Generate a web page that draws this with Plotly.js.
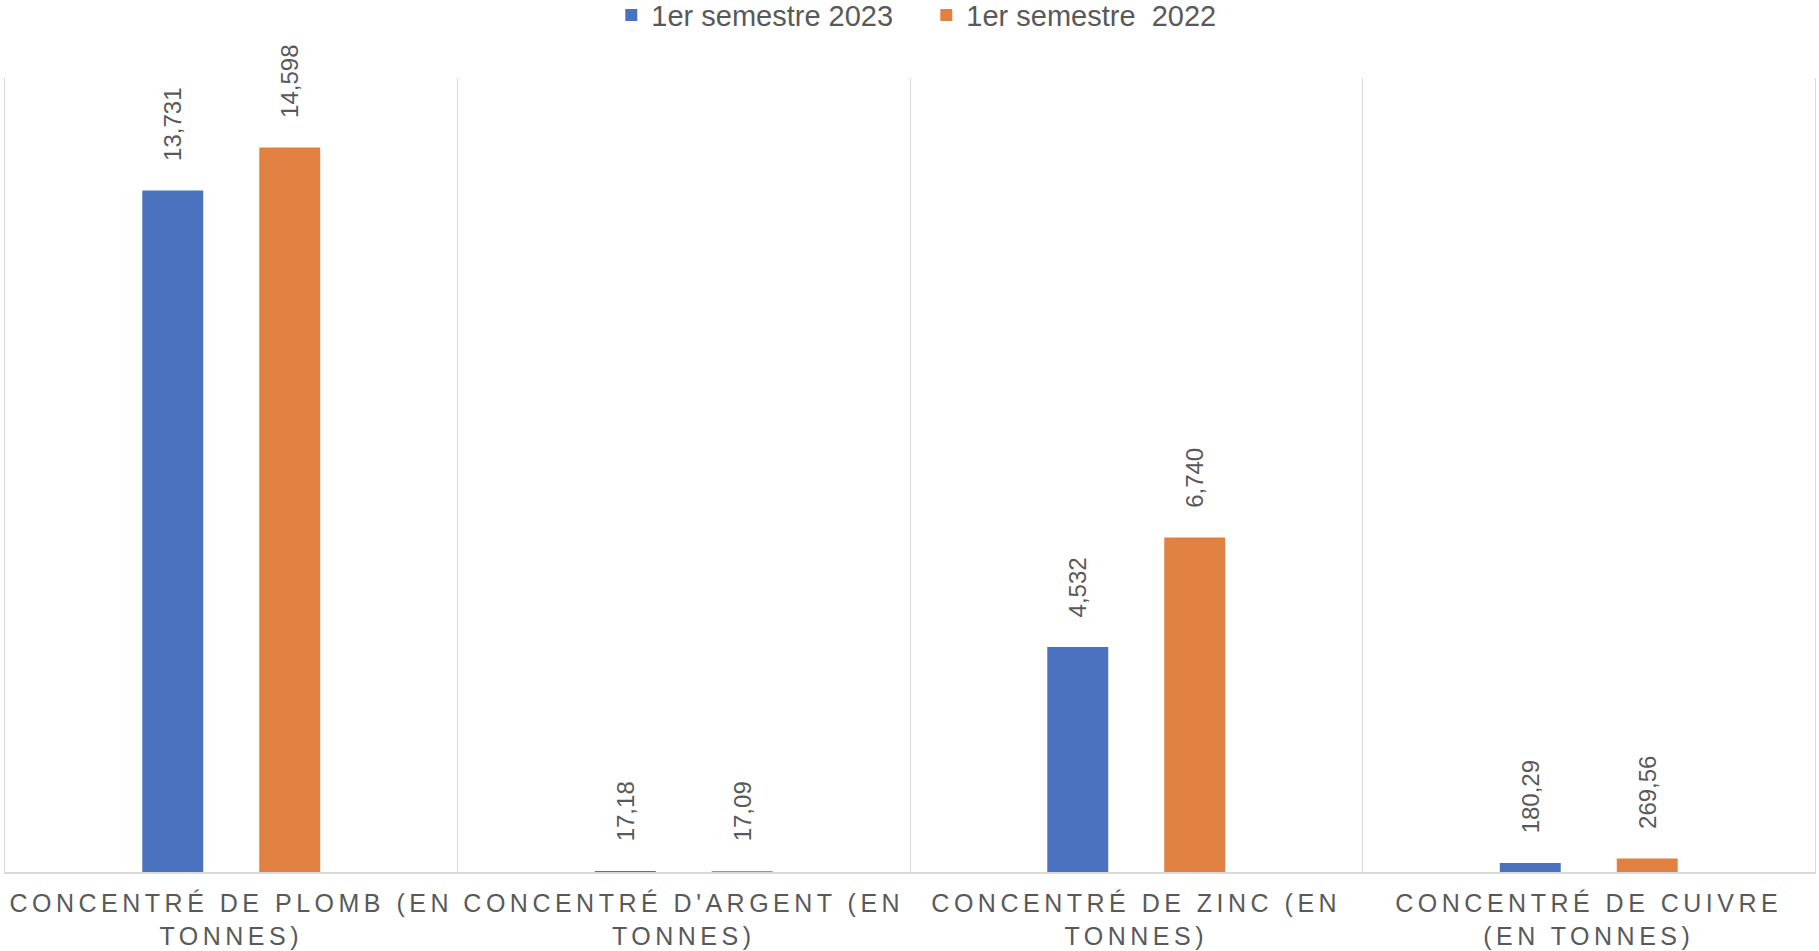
<!DOCTYPE html>
<html>
<head>
<meta charset="utf-8">
<script src="https://cdn.plot.ly/plotly-3.0.1.min.js"></script>
<style>
  html, body { margin: 0; padding: 0; background: #ffffff; }
  #chart { width: 1819px; height: 951px; }
  .xtick text { letter-spacing: 4.5px; }
</style>
</head>
<body>
<div id="chart"></div>
<script>
// ---- data ----
const categories = [
  "CONCENTRÉ DE PLOMB (EN<br>TONNES)",
  "CONCENTRÉ D'ARGENT (EN<br>TONNES)",
  "CONCENTRÉ DE ZINC (EN<br>TONNES)",
  "CONCENTRÉ DE CUIVRE<br>(EN TONNES)"
];
const seriesNames = ["1er semestre 2023", "1er semestre  2022"];
const values2023 = [13731, 17.18, 4532, 180.29];
const values2022 = [14598, 17.09, 6740, 269.56];
const colors = ["#4A72BF", "#E08142"];

// label formatting as shown in the picture: thousands with ",", decimals with ","
function fmt(v) {
  if (v >= 1000) {
    const s = Math.round(v).toString();
    return s.replace(/\B(?=(\d{3})+(?!\d))/g, ",");
  }
  return v.toFixed(2).replace(".", ",");
}
const pad = "\u00a0\u00a0\u00a0\u00a0";

const FONT = "Liberation Sans, Arial, Helvetica, sans-serif";
const GREY = "#595959";

function barTrace(name, vals, color) {
  return {
    type: "bar",
    name: name,
    x: categories,
    y: vals,
    marker: { color: color },
    text: vals.map(v => pad + fmt(v)),
    textposition: "outside",
    textangle: -90,
    constraintext: "none",
    cliponaxis: false,
    textfont: { family: FONT, size: 24, color: GREY },
    hoverinfo: "x+y"
  };
}

const data = [
  barTrace(seriesNames[0], values2023, colors[0]),
  barTrace(seriesNames[1], values2022, colors[1])
];

const layout = {
  width: 1819,
  height: 951,
  margin: { l: 5, r: 4, t: 78, b: 79, pad: 0 },
  paper_bgcolor: "#ffffff",
  plot_bgcolor: "#ffffff",
  barmode: "group",
  bargap: 0.483,
  bargroupgap: 0.479,
  font: { family: FONT, color: GREY },
  showlegend: true,
  legend: {
    orientation: "h",
    x: 0.509,
    xanchor: "center",
    yref: "container",
    y: 0.984,
    yanchor: "middle",
    itemwidth: 30,
    entrywidth: 270,
    font: { family: FONT, size: 29, color: GREY },
    itemclick: false,
    traceorder: "normal"
  },
  xaxis: {
    type: "category",
    tickson: "boundaries",
    showgrid: true,
    gridcolor: "#d9d9d9",
    gridwidth: 1,
    showline: true,
    linecolor: "#d9d9d9",
    linewidth: 2,
    ticks: "",
    tickangle: 0,
    ticklabelstandoff: 8,
    tickfont: { family: FONT, size: 25, color: GREY },
    range: [-0.5, 3.5],
    fixedrange: true
  },
  yaxis: {
    range: [0, 16000],
    showticklabels: false,
    showgrid: false,
    zeroline: false,
    showline: true,
    mirror: true,
    linecolor: "#d9d9d9",
    linewidth: 1,
    ticks: "",
    fixedrange: true
  }
};

Plotly.newPlot("chart", data, layout, { displayModeBar: false, responsive: false });
</script>
</body>
</html>
